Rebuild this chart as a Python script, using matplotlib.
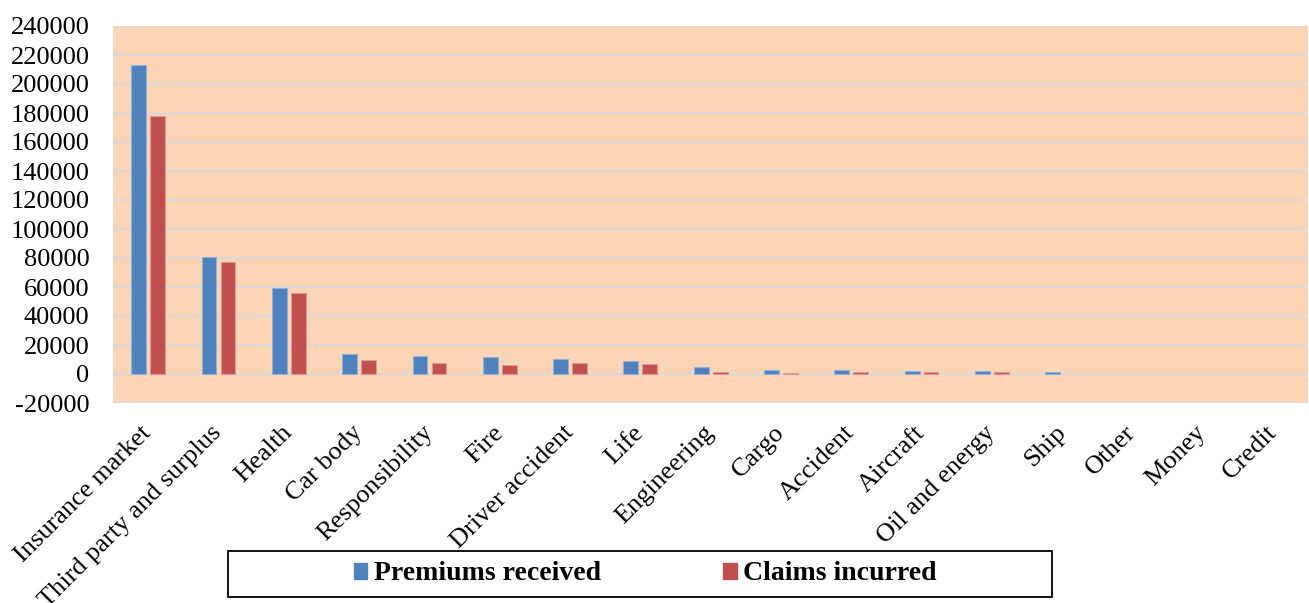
import matplotlib.pyplot as plt
import numpy as np
from matplotlib.patches import Rectangle, Patch

# --------- DATA ----------
categories = ['Insurance market', 'Third party and surplus', 'Health', 'Car body',
              'Responsibility', 'Fire', 'Driver accident', 'Life', 'Engineering',
              'Cargo', 'Accident', 'Aircraft', 'Oil and energy', 'Ship',
              'Other', 'Money', 'Credit']
premiums = [213000, 80700, 59300, 13600, 12400, 11700, 10300, 9000, 4800,
            2500, 2500, 1800, 1800, 1400, 0, 0, 0]
claims = [178000, 77300, 55900, 9700, 7600, 6200, 7600, 6900, 1400,
          700, 1200, 1200, 1200, 0, 0, 0, 0]
yticks = list(range(-20000, 240001, 20000))

BLUE = '#4F81BD'
RED = '#C0504D'

plt.rcParams['font.family'] = ['Liberation Serif', 'DejaVu Serif']

# --------- DRAW ----------
fig = plt.figure(figsize=(13.09, 6.03), dpi=100)
ax = fig.add_axes([113/1309, 1 - 403/603, 1 - 113/1309 - 0.0005, (403 - 26)/603])
ax.set_facecolor('#FBD5B5')

x = np.arange(len(categories))
w = 0.21
# нулевые столбики без обводки, чтобы не было видно
lw_p = [0.8 if v else 0 for v in premiums]
lw_c = [0.8 if v else 0 for v in claims]
ax.bar(x - 0.135, premiums, w, color=BLUE, edgecolor='#8FB1DB', linewidth=lw_p, zorder=3)
ax.bar(x + 0.135, claims, w, color=RED, edgecolor='#E09896', linewidth=lw_c, zorder=3)

ax.set_xlim(-0.5, len(categories) - 0.5)
ax.set_ylim(-20000, 240000)
ax.set_yticks(yticks)
ax.set_yticklabels([str(v) for v in yticks], fontsize=19)
ax.grid(axis='y', color='#D9D9D9', linewidth=1.5, zorder=1)
for s in ax.spines.values():
    s.set_visible(False)
ax.tick_params(axis='y', length=0, pad=17)
ax.tick_params(axis='x', length=0, pad=19)

ax.set_xticks(x)
ax.set_xticklabels(categories, rotation=45, ha='right', va='center',
                   rotation_mode='anchor', fontsize=19)

# legend with box
box = Rectangle((228/1309, 1 - 597/603), (1052 - 228)/1309, (597 - 551)/603,
                transform=fig.transFigure, fill=False, edgecolor='black',
                linewidth=1.3, zorder=5)
fig.patches.append(box)
handles = [Patch(color=BLUE, label='Premiums received'),
           Patch(color=RED, label='Claims incurred')]
fig.legend(handles=handles, loc='center', bbox_to_anchor=(645/1309, 1 - 574/603),
           ncol=2, frameon=False, prop={'weight': 'bold', 'size': 20},
           handlelength=0.5, handleheight=0.5, handletextpad=0.22,
           columnspacing=4.4, borderpad=0)

fig.savefig('out.png', dpi=100)
